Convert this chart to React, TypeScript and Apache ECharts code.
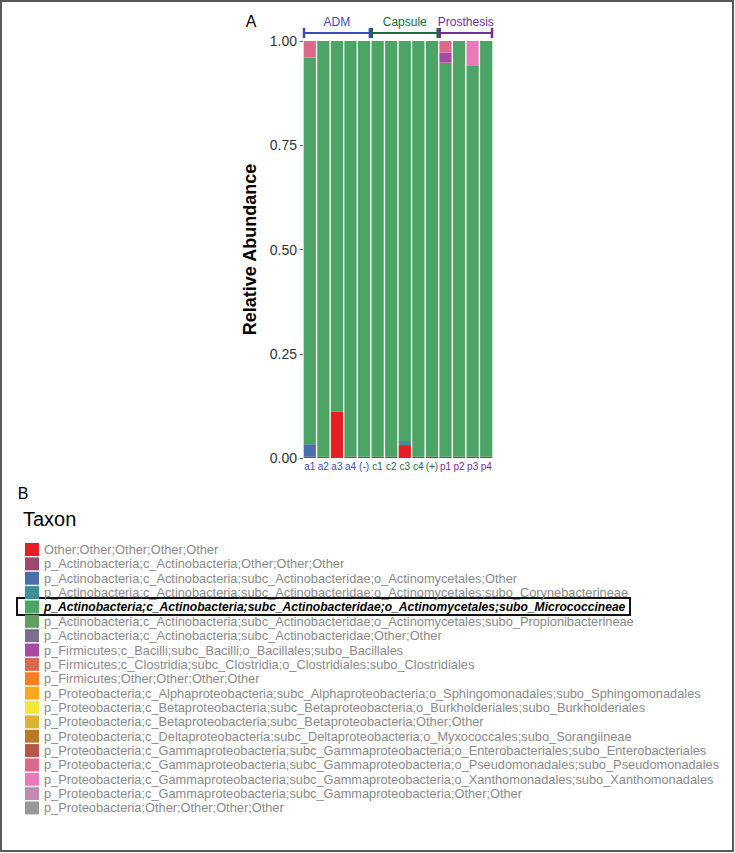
import React, { useEffect, useRef } from 'react';
import * as echarts from 'echarts';

const samples = ['a1', 'a2', 'a3', 'a4', '(-)', 'c1', 'c2', 'c3', 'c4', '(+)', 'p1', 'p2', 'p3', 'p4'];
const sampleColors = ['#3b4db4', '#3b4db4', '#3b4db4', '#3b4db4', '#3b4db4', '#1b6b42', '#1b6b42', '#1b6b42', '#1b6b42', '#1b6b42', '#6f2e9e', '#6f2e9e', '#6f2e9e', '#6f2e9e'];
const groupNames = ['ADM', 'Capsule', 'Prosthesis'];
const groupSizes = [5, 5, 4];
const groupColors = ['#3b4db4', '#1b6b42', '#6f2e9e'];
const yTicks = [0, 0.25, 0.5, 0.75, 1];

const taxa = [
  'Other;Other;Other;Other;Other',
  'p_Actinobacteria;c_Actinobacteria;Other;Other;Other',
  'p_Actinobacteria;c_Actinobacteria;subc_Actinobacteridae;o_Actinomycetales;Other',
  'p_Actinobacteria;c_Actinobacteria;subc_Actinobacteridae;o_Actinomycetales;subo_Corynebacterineae',
  'p_Actinobacteria;c_Actinobacteria;subc_Actinobacteridae;o_Actinomycetales;subo_Micrococcineae',
  'p_Actinobacteria;c_Actinobacteria;subc_Actinobacteridae;o_Actinomycetales;subo_Propionibacterineae',
  'p_Actinobacteria;c_Actinobacteria;subc_Actinobacteridae;Other;Other',
  'p_Firmicutes;c_Bacilli;subc_Bacilli;o_Bacillales;subo_Bacillales',
  'p_Firmicutes;c_Clostridia;subc_Clostridia;o_Clostridiales;subo_Clostridiales',
  'p_Firmicutes;Other;Other;Other;Other',
  'p_Proteobacteria;c_Alphaproteobacteria;subc_Alphaproteobacteria;o_Sphingomonadales;subo_Sphingomonadales',
  'p_Proteobacteria;c_Betaproteobacteria;subc_Betaproteobacteria;o_Burkholderiales;subo_Burkholderiales',
  'p_Proteobacteria;c_Betaproteobacteria;subc_Betaproteobacteria;Other;Other',
  'p_Proteobacteria;c_Deltaproteobacteria;subc_Deltaproteobacteria;o_Myxococcales;subo_Sorangiineae',
  'p_Proteobacteria;c_Gammaproteobacteria;subc_Gammaproteobacteria;o_Enterobacteriales;subo_Enterobacteriales',
  'p_Proteobacteria;c_Gammaproteobacteria;subc_Gammaproteobacteria;o_Pseudomonadales;subo_Pseudomonadales',
  'p_Proteobacteria;c_Gammaproteobacteria;subc_Gammaproteobacteria;o_Xanthomonadales;subo_Xanthomonadales',
  'p_Proteobacteria;c_Gammaproteobacteria;subc_Gammaproteobacteria;Other;Other',
  'p_Proteobacteria;Other;Other;Other;Other',
];
const taxaColors = [
  '#e41f26', '#9b4a6e', '#4a6eab', '#3d8e9a', '#4ca466', '#5f9e5c', '#7b6f8b', '#a64b9f', '#d8694f', '#f47f20',
  '#f9a91d', '#f4e836', '#dab52d', '#b9792a', '#b55a4b', '#d96a88', '#e87cbb', '#c18bb0', '#999999',
];
const highlighted = taxa[4];

// relative abundance per sample (order of `samples`)
const otherAbund = [0.003, 0.003, 0.111, 0.003, 0.003, 0.003, 0.003, 0.031, 0.003, 0.003, 0.003, 0.003, 0.003, 0.003];
const actinomycetalesOther = [0.03, 0, 0, 0, 0, 0, 0, 0, 0, 0, 0, 0, 0, 0];
const corynebacterineae = [0, 0, 0, 0, 0, 0, 0, 0.01, 0, 0, 0, 0, 0, 0];
const micrococcineae = [0.927, 0.997, 0.889, 0.997, 0.997, 0.997, 0.997, 0.959, 0.997, 0.997, 0.945, 0.997, 0.939, 0.997];
const bacillales = [0, 0, 0, 0, 0, 0, 0, 0, 0, 0, 0.024, 0, 0, 0];
const pseudomonadales = [0.04, 0, 0, 0, 0, 0, 0, 0, 0, 0, 0.028, 0, 0, 0];
const xanthomonadales = [0, 0, 0, 0, 0, 0, 0, 0, 0, 0, 0, 0, 0.058, 0];
const absent = [0, 0, 0, 0, 0, 0, 0, 0, 0, 0, 0, 0, 0, 0];

const abundanceByTaxon: Record<number, number[]> = {
  0: otherAbund,
  2: actinomycetalesOther,
  3: corynebacterineae,
  4: micrococcineae,
  7: bacillales,
  15: pseudomonadales,
  16: xanthomonadales,
};

const FONT = 'Liberation Sans, Arial, sans-serif';

export default function App() {
  const ref = useRef<HTMLDivElement>(null);
  useEffect(() => {
    document.body.style.margin = '0';
    const chart = echarts.init(ref.current!, null, { renderer: 'svg' });
    const gridLeft = 303;
    const gridTop = 41;
    const gridRight = 735 - 493;
    const gridBottom = 853 - 458;
    chart.setOption({
      animation: false,
      backgroundColor: '#ffffff',
      textStyle: { fontFamily: FONT },
      grid: { left: gridLeft, top: gridTop, right: gridRight, bottom: gridBottom, containLabel: false },
      xAxis: {
        type: 'category',
        data: samples,
        axisLine: { show: false },
        axisTick: { show: false },
        axisLabel: {
          interval: 0,
          fontSize: 10,
          margin: 3,
          fontFamily: FONT,
          color: (_v: string, i: number) => sampleColors[i],
        },
      },
      yAxis: {
        type: 'value',
        min: 0,
        max: 1,
        interval: 0.25,
        name: 'Relative Abundance',
        nameLocation: 'middle',
        nameGap: 44,
        nameTextStyle: { fontSize: 18, fontWeight: 'bold', color: '#000', fontFamily: FONT },
        axisLine: { show: false },
        axisTick: { show: true, length: 3, lineStyle: { color: '#666' } },
        splitLine: { show: false },
        axisLabel: {
          fontSize: 14,
          color: '#333',
          margin: 6,
          fontFamily: FONT,
          formatter: (v: number) => (yTicks.includes(v) ? v.toFixed(2) : ''),
        },
      },
      legend: {
        orient: 'vertical',
        left: 25,
        top: 543,
        padding: 0,
        itemWidth: 14,
        itemHeight: 13,
        itemGap: 1.36,
        icon: 'rect',
        selectedMode: false,
        data: taxa,
        formatter: (name: string) => (name === highlighted ? `{b|${name}}` : name),
        textStyle: {
          fontSize: 12.8,
          color: '#8a8a8a',
          fontFamily: FONT,
          lineHeight: 13,
          padding: [0, 0, 0, 0],
          rich: {
            b: { fontSize: 12.1, fontWeight: 'bold', fontStyle: 'italic', color: '#000', lineHeight: 13, fontFamily: FONT },
          },
        },
      },
      series: taxa.map((t, i) => ({
        name: t,
        type: 'bar',
        stack: 'total',
        barCategoryGap: '10%',
        itemStyle: { color: taxaColors[i] },
        data: abundanceByTaxon[i] ?? absent,
      })),
    });

    const centers = samples.map((s) => chart.convertToPixel({ xAxisIndex: 0 }, s) as number);
    const band = centers[1] - centers[0];
    const graphics: any[] = [];
    let start = 0;
    const by = 33;
    groupNames.forEach((g, gi) => {
      const x0 = centers[start] - band / 2;
      const x1 = centers[start + groupSizes[gi] - 1] + band / 2;
      const col = groupColors[gi];
      graphics.push(
        { type: 'line', shape: { x1: x0, y1: by, x2: x1, y2: by }, style: { stroke: col, lineWidth: 2 } },
        { type: 'line', shape: { x1: x0 + 1, y1: by - 5, x2: x0 + 1, y2: by + 5 }, style: { stroke: col, lineWidth: 2.5 } },
        { type: 'line', shape: { x1: x1 - 1, y1: by - 5, x2: x1 - 1, y2: by + 5 }, style: { stroke: col, lineWidth: 2.5 } },
        {
          type: 'text',
          x: (x0 + x1) / 2,
          y: 22,
          style: { text: g, fill: col, fontSize: 12, fontFamily: FONT, align: 'center', verticalAlign: 'middle' },
        },
      );
      start += groupSizes[gi];
    });
    graphics.push(
      { type: 'rect', shape: { x: 1, y: 1, width: 732, height: 850 }, style: { fill: 'none', stroke: '#5a5a5a', lineWidth: 2 } },
      { type: 'text', x: 251, y: 21, style: { text: 'A', fontSize: 16, fill: '#000', fontFamily: FONT, align: 'center', verticalAlign: 'middle' } },
      { type: 'text', x: 23, y: 493, style: { text: 'B', fontSize: 16, fill: '#000', fontFamily: FONT, align: 'center', verticalAlign: 'middle' } },
      { type: 'text', x: 23, y: 519, style: { text: 'Taxon', fontSize: 20, fill: '#000', fontFamily: FONT, align: 'left', verticalAlign: 'middle' } },
      { type: 'rect', shape: { x: 17, y: 598, width: 613, height: 17 }, style: { fill: 'none', stroke: '#111', lineWidth: 2 } },
    );
    chart.setOption({ graphic: graphics });
    return () => chart.dispose();
  }, []);
  return <div ref={ref} style={{ width: 735, height: 853 }} />;
}
